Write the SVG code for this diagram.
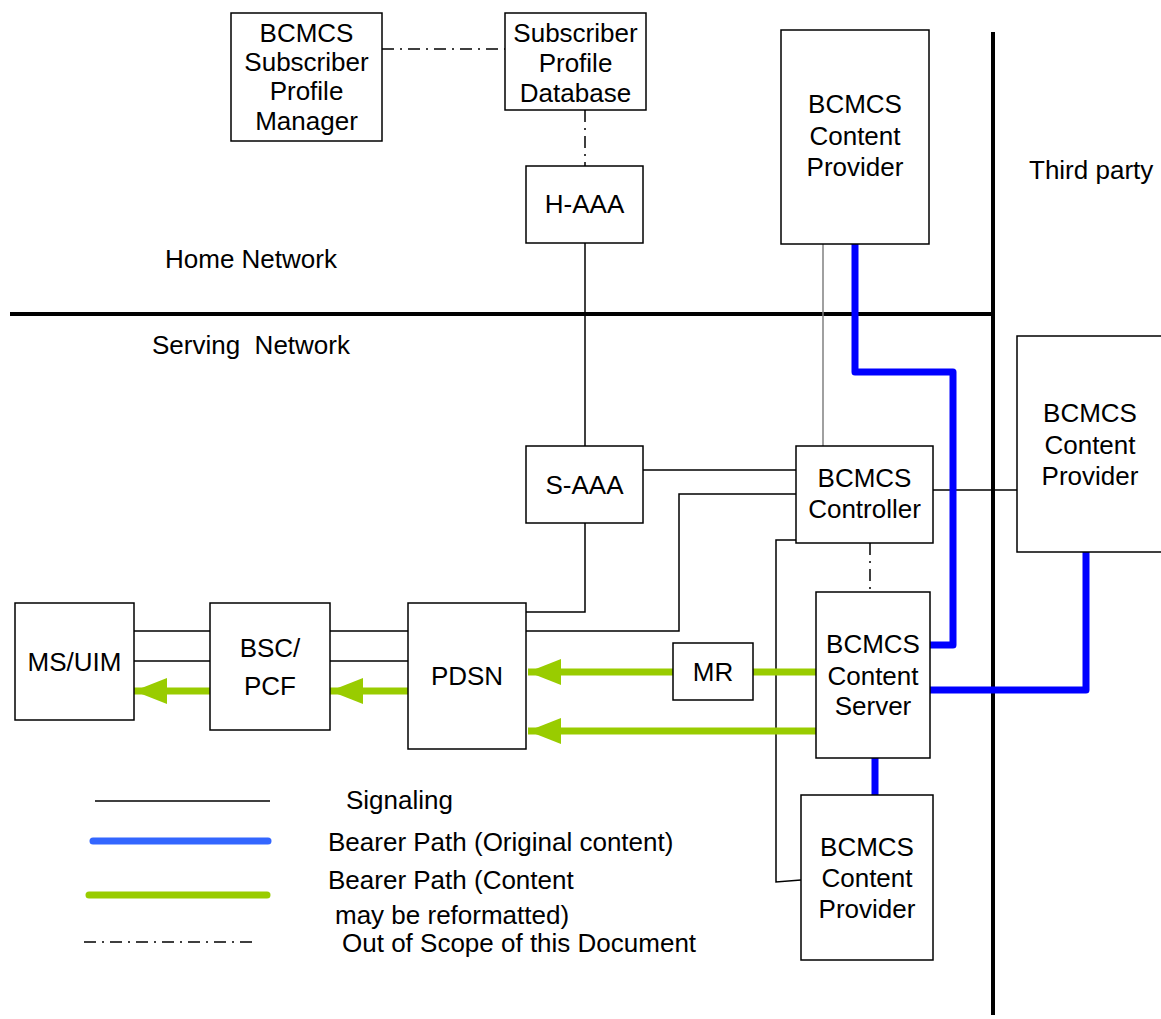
<svg xmlns="http://www.w3.org/2000/svg" width="1161" height="1019" viewBox="0 0 1161 1019">
  <style>
    .box { fill: #ffffff; stroke: #000000; stroke-width: 1.5; }
    .lbl { font-family: "Liberation Sans", Arial, sans-serif; font-size: 26px; fill: #000000; }
    .mid { text-anchor: middle; }
    .sig { fill: none; stroke: #000000; stroke-width: 1.5; }
    .gray { fill: none; stroke: #808080; stroke-width: 1.5; }
    .oos { fill: none; stroke: #000000; stroke-width: 1.5; stroke-dasharray: 12 6 2 6; }
    .bar { fill: none; stroke: #000000; stroke-width: 4; }
    .blue { fill: none; stroke: #0000ff; stroke-width: 7; stroke-linejoin: round; stroke-linecap: round; }
    .green { fill: none; stroke: #99cc00; stroke-width: 7; stroke-linecap: round; }
    .greenarr { fill: none; stroke: #99cc00; stroke-width: 7; marker-end: url(#ahead); }
  </style>
  <defs>
    <marker id="ahead" markerUnits="userSpaceOnUse" markerWidth="34" markerHeight="26" refX="33" refY="13" orient="auto">
      <path d="M0,0 L33,13 L0,26 Z" fill="#99cc00"/>
    </marker>
  </defs>

  <rect width="1161" height="1019" fill="#ffffff"/>

  <!-- network boundaries -->
  <g id="boundaries">
    <path class="bar" d="M10,314 H993"/>
    <path class="bar" d="M993,32 V1015"/>
  </g>

  <!-- connectors -->
  <g id="connectors">
    <!-- out of scope -->
    <path class="oos" d="M382,49 H505"/>
    <path class="oos" d="M585,110 V166"/>
    <path class="oos" d="M870,543 V592"/>
    <!-- signaling -->
    <path class="sig" d="M585,243 V446"/>
    <path class="sig" d="M585,523 V612 H526"/>
    <path class="sig" d="M643,470 H796"/>
    <path class="sig" d="M796,494 H679 V631 H134"/>
    <path class="sig" d="M134,661 H210"/>
    <path class="sig" d="M330,661 H408"/>
    <path class="sig" d="M796,540 H776 V882 L801,880"/>
    <path class="sig" d="M933,490 H1017"/>
    <path class="gray" d="M823,244 V446"/>
    <!-- bearer, original content -->
    <path class="blue" d="M855,244 V372 H953 V645 H930"/>
    <path class="blue" d="M1086,552 V690 H930"/>
    <path class="blue" d="M875,758 V795"/>
    <!-- bearer, reformatted content -->
    <path class="green" d="M816,672 H753"/>
    <path class="greenarr" d="M673,672 H528"/>
    <path class="greenarr" d="M816,731 H528"/>
    <path class="greenarr" d="M408,691 H330"/>
    <path class="greenarr" d="M210,691 H134"/>
  </g>

  <g id="subscriber-profile-manager">
    <rect class="box" x="231" y="13" width="151" height="128"/>
    <text class="lbl mid" x="306.5" y="42">BCMCS</text>
    <text class="lbl mid" x="306.5" y="71">Subscriber</text>
    <text class="lbl mid" x="306.5" y="100">Profile</text>
    <text class="lbl mid" x="306.5" y="130">Manager</text>
  </g>
  <g id="subscriber-profile-db">
    <rect class="box" x="505" y="13" width="141" height="97"/>
    <text class="lbl mid" x="575.5" y="42">Subscriber</text>
    <text class="lbl mid" x="575.5" y="72">Profile</text>
    <text class="lbl mid" x="575.5" y="102">Database</text>
  </g>
  <g id="h-aaa">
    <rect class="box" x="526" y="166" width="117" height="77"/>
    <text class="lbl mid" x="584.5" y="213">H-AAA</text>
  </g>
  <g id="content-provider-top">
    <rect class="box" x="781" y="30" width="148" height="214"/>
    <text class="lbl mid" x="855" y="113">BCMCS</text>
    <text class="lbl mid" x="855" y="145">Content</text>
    <text class="lbl mid" x="855" y="176">Provider</text>
  </g>
  <g id="s-aaa">
    <rect class="box" x="526" y="446" width="117" height="77"/>
    <text class="lbl mid" x="584.5" y="494">S-AAA</text>
  </g>
  <g id="controller">
    <rect class="box" x="796" y="446" width="137" height="97"/>
    <text class="lbl mid" x="864.5" y="487">BCMCS</text>
    <text class="lbl mid" x="864.5" y="518">Controller</text>
  </g>
  <g id="content-provider-right">
    <rect class="box" x="1017" y="336" width="160" height="216"/>
    <text class="lbl mid" x="1090" y="422">BCMCS</text>
    <text class="lbl mid" x="1090" y="454">Content</text>
    <text class="lbl mid" x="1090" y="485">Provider</text>
  </g>
  <g id="ms-uim">
    <rect class="box" x="15" y="603" width="119" height="117"/>
    <text class="lbl mid" x="74.5" y="671">MS/UIM</text>
  </g>
  <g id="bsc-pcf">
    <rect class="box" x="210" y="603" width="120" height="127"/>
    <text class="lbl mid" x="270" y="657">BSC/</text>
    <text class="lbl mid" x="270" y="695">PCF</text>
  </g>
  <g id="pdsn">
    <rect class="box" x="408" y="603" width="118" height="146"/>
    <text class="lbl mid" x="467" y="685">PDSN</text>
  </g>
  <g id="mr">
    <rect class="box" x="673" y="643" width="80" height="57"/>
    <text class="lbl mid" x="713" y="681">MR</text>
  </g>
  <g id="content-server">
    <rect class="box" x="816" y="592" width="114" height="166"/>
    <text class="lbl mid" x="873" y="653">BCMCS</text>
    <text class="lbl mid" x="873" y="685">Content</text>
    <text class="lbl mid" x="873" y="715">Server</text>
  </g>
  <g id="content-provider-bottom">
    <rect class="box" x="801" y="795" width="132" height="165"/>
    <text class="lbl mid" x="867" y="856">BCMCS</text>
    <text class="lbl mid" x="867" y="887">Content</text>
    <text class="lbl mid" x="867" y="918">Provider</text>
  </g>

  <!-- domain labels -->
  <g id="domain-labels">
    <text class="lbl" x="1029" y="179">Third party</text>
    <text class="lbl" x="165" y="268">Home Network</text>
    <text class="lbl" x="152" y="354" xml:space="preserve">Serving  Network</text>
  </g>

  <!-- legend -->
  <g id="legend">
    <path class="sig" d="M95,801 H270"/>
    <path d="M93,841 H268" fill="none" stroke="#3366ff" stroke-width="7" stroke-linecap="round"/>
    <path class="green" d="M89,895 H267"/>
    <path class="oos" d="M84,942 H256"/>
    <text class="lbl" x="346" y="809">Signaling</text>
    <text class="lbl" x="328" y="851">Bearer Path (Original content)</text>
    <text class="lbl" x="328" y="889">Bearer Path (Content</text>
    <text class="lbl" x="335" y="924">may be reformatted)</text>
    <text class="lbl" x="342" y="952">Out of Scope of this Document</text>
  </g>
</svg>
